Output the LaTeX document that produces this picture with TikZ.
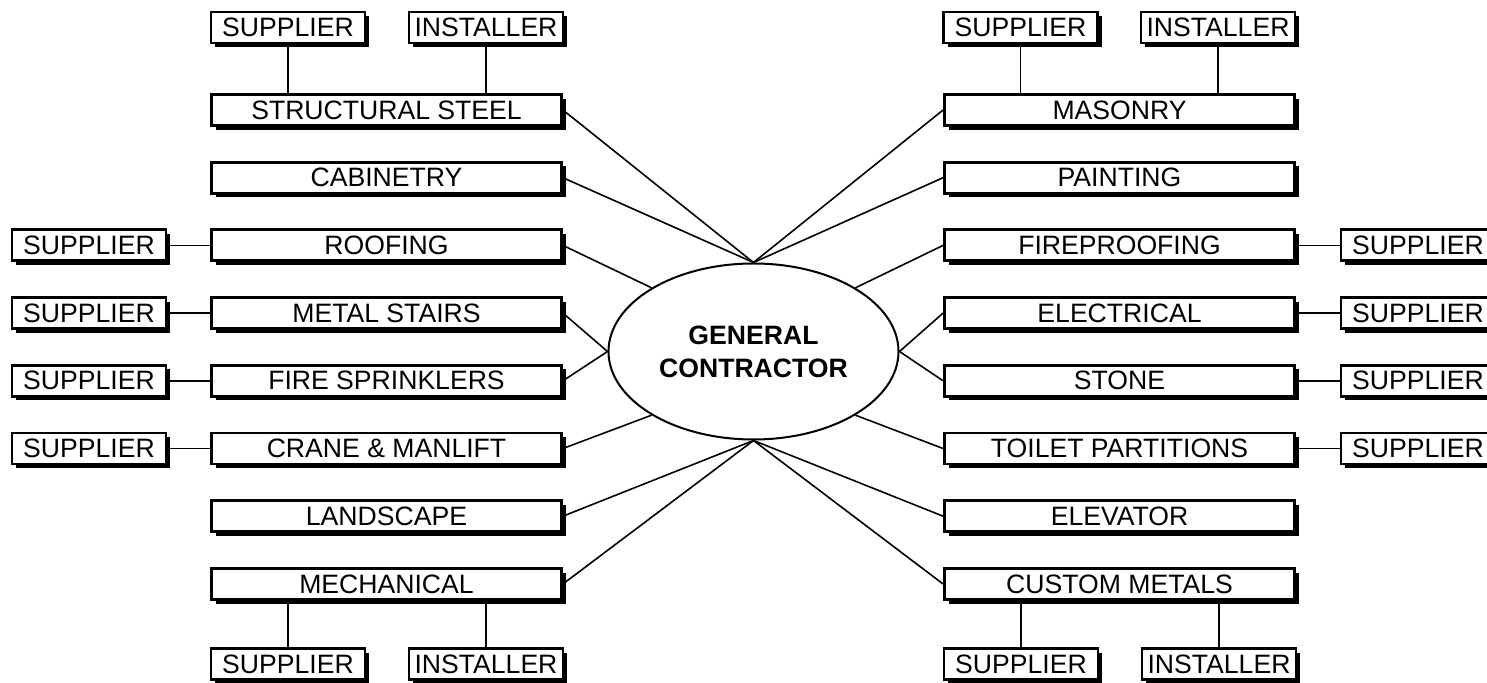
\documentclass[tikz,border=0pt]{standalone}
\usepackage{fontspec}
\setmainfont{Liberation Sans}
\usetikzlibrary{shadows,shapes.geometric}

\begin{document}
\begin{tikzpicture}[
  x=0.5pt, y=-0.5pt,
  trade/.style={draw, line width=1.4pt, fill=white, minimum width=175pt, minimum height=15.5pt,
                inner sep=0pt, font=\fontsize{13.3pt}{15pt}\selectfont,
                general shadow={fill=black, shadow xshift=2.1pt, shadow yshift=-2.1pt}},
  vendor/.style={trade, minimum width=77pt},
  gc/.style={draw, ellipse, line width=1pt, minimum width=145pt, minimum height=88pt,
             inner sep=0pt, align=center, font=\fontsize{13.3pt}{16.5pt}\selectfont\bfseries},
  link/.style={line width=0.8pt},
]
\useasboundingbox (0,0) rectangle (1487,683);
\clip (0,0) rectangle (1487,683);

\node[gc] (gc) at (753.5,351.5) {GENERAL\\CONTRACTOR};

% left trades
\node[trade] (ss) at (386.5,110) {STRUCTURAL STEEL};
\node[trade] (cab) at (386.5,177.7) {CABINETRY};
\node[trade] (roof) at (386.5,245.4) {ROOFING};
\node[trade] (stairs) at (386.5,313.1) {METAL STAIRS};
\node[trade] (sprink) at (386.5,380.8) {FIRE SPRINKLERS};
\node[trade] (crane) at (386.5,448.5) {CRANE \& MANLIFT};
\node[trade] (land) at (386.5,516.2) {LANDSCAPE};
\node[trade] (mech) at (386.5,584) {MECHANICAL};

% right trades
\node[trade] (mason) at (1119.5,110) {MASONRY};
\node[trade] (paint) at (1119.5,177.7) {PAINTING};
\node[trade] (fireproof) at (1119.5,245.4) {FIREPROOFING};
\node[trade] (elec) at (1119.5,313.1) {ELECTRICAL};
\node[trade] (stone) at (1119.5,380.8) {STONE};
\node[trade] (toilet) at (1119.5,448.5) {TOILET PARTITIONS};
\node[trade] (elev) at (1119.5,516.2) {ELEVATOR};
\node[trade] (custom) at (1119.5,584) {CUSTOM METALS};

% suppliers and installers
\node[vendor] (sssup) at (288,27.5) {SUPPLIER};
\node[vendor] (ssinst) at (486,27.5) {INSTALLER};
\node[vendor] (mechsup) at (288,664) {SUPPLIER};
\node[vendor] (mechinst) at (486,664) {INSTALLER};
\node[vendor] (masonsup) at (1020.5,27.5) {SUPPLIER};
\node[vendor] (masoninst) at (1218,27.5) {INSTALLER};
\node[vendor] (customsup) at (1021,664) {SUPPLIER};
\node[vendor] (custominst) at (1219,664) {INSTALLER};
\node[vendor] (roofsup) at (89,245.4) {SUPPLIER};
\node[vendor] (stairssup) at (89,313.1) {SUPPLIER};
\node[vendor] (sprinksup) at (89,380.8) {SUPPLIER};
\node[vendor] (cranesup) at (89,448.5) {SUPPLIER};
\node[vendor] (fireproofsup) at (1418,245.4) {SUPPLIER};
\node[vendor] (elecsup) at (1418,313.1) {SUPPLIER};
\node[vendor] (stonesup) at (1418,380.8) {SUPPLIER};
\node[vendor] (toiletsup) at (1418,448.5) {SUPPLIER};

% trades to general contractor
\draw[link] (ss.east) -- (gc.north);
\draw[link] (cab.east) -- (gc.north);
\draw[link] (roof.east) -- (gc.148);
\draw[link] (stairs.east) -- (gc.west);
\draw[link] (sprink.east) -- (gc.west);
\draw[link] (crane.east) -- (gc.212);
\draw[link] (land.east) -- (gc.south);
\draw[link] (mech.east) -- (gc.south);
\draw[link] (mason.west) -- (gc.north);
\draw[link] (paint.west) -- (gc.north);
\draw[link] (fireproof.west) -- (gc.32);
\draw[link] (elec.west) -- (gc.east);
\draw[link] (stone.west) -- (gc.east);
\draw[link] (toilet.west) -- (gc.-32);
\draw[link] (elev.west) -- (gc.south);
\draw[link] (custom.west) -- (gc.south);

% vendors to trades
\draw[link] (sssup.south) -- (sssup |- ss.north);
\draw[link] (ssinst.south) -- (ssinst |- ss.north);
\draw[link] (mechsup.north) -- (mechsup |- mech.south);
\draw[link] (mechinst.north) -- (mechinst |- mech.south);
\draw[link] (masonsup.south) -- (masonsup |- mason.north);
\draw[link] (masoninst.south) -- (masoninst |- mason.north);
\draw[link] (customsup.north) -- (customsup |- custom.south);
\draw[link] (custominst.north) -- (custominst |- custom.south);
\draw[link] (roofsup.east) -- (roof.west);
\draw[link] (stairssup.east) -- (stairs.west);
\draw[link] (sprinksup.east) -- (sprink.west);
\draw[link] (cranesup.east) -- (crane.west);
\draw[link] (fireproof.east) -- (fireproofsup.west);
\draw[link] (elec.east) -- (elecsup.west);
\draw[link] (stone.east) -- (stonesup.west);
\draw[link] (toilet.east) -- (toiletsup.west);

\end{tikzpicture}
\end{document}
